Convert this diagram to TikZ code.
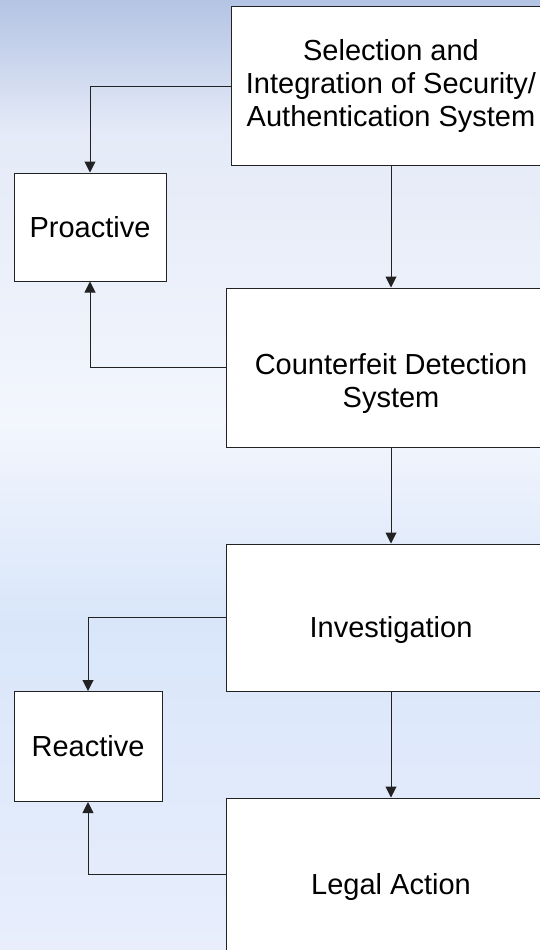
\documentclass[tikz,border=0pt]{standalone}
\usepackage{fontspec}
\setmainfont{Liberation Sans}
\usetikzlibrary{arrows.meta}
\definecolor{bgtop}{HTML}{B4C4E4}
\definecolor{bgpale}{HTML}{E4EAF7}
\definecolor{bgwhite}{HTML}{F3F6FD}
\definecolor{bgblue}{HTML}{D9E6FA}
\definecolor{bgbottom}{HTML}{E8EEFC}
\definecolor{edge}{HTML}{222222}

\begin{document}
\begin{tikzpicture}[x=1pt,y=-1pt,
    box/.style={draw=edge,fill=white,line width=1pt,align=center,font=\fontsize{29}{33}\selectfont},
    boxtext/.style={align=center,font=\fontsize{29}{33}\selectfont},
    arr/.style={draw=edge,line width=1pt,-{Triangle[length=11pt,width=11pt]}}]
    \clip (0,0) rectangle (540,950);
    % background
    \shade[top color=bgtop,bottom color=bgpale] (0,0) rectangle (540,131);
    \shade[top color=bgpale,bottom color=bgwhite] (0,130) rectangle (540,421);
    \shade[top color=bgwhite,bottom color=bgblue] (0,420) rectangle (540,621);
    \shade[top color=bgblue,bottom color=bgbottom] (0,620) rectangle (540,950);
    %
    \node[box,minimum width=320pt,minimum height=158pt] (sel) at (391,86)
      {Selection and\\Integration of Security/\\Authentication System};
    \node[box,minimum width=152pt,minimum height=108pt] (pro) at (90,227) {Proactive};
    \node[box,minimum width=330pt,minimum height=159pt,
      label={[boxtext,yshift=-16pt]center:Counterfeit Detection\\System}] (cds) at (391,367.5) {};
    \node[box,minimum width=330pt,minimum height=147pt,
      label={[boxtext,yshift=-12pt]center:Investigation}] (inv) at (391,617.5) {};
    \node[box,minimum width=148pt,minimum height=110pt] (rea) at (88,746.5) {Reactive};
    \node[box,minimum width=330pt,minimum height=152pt,
      label={[boxtext,yshift=-13pt]center:Legal Action}] (leg) at (391,874) {};
    %
    \draw[arr] (sel.west) -| (pro.north);
    \draw[arr] (sel.south) -- (cds.north);
    \draw[arr] (cds.west) -| (pro.south);
    \draw[arr] (cds.south) -- (inv.north);
    \draw[arr] (inv.west) -| (rea.north);
    \draw[arr] (inv.south) -- (leg.north);
    \draw[arr] (leg.west) -| (rea.south);
  \end{tikzpicture}
\end{document}
